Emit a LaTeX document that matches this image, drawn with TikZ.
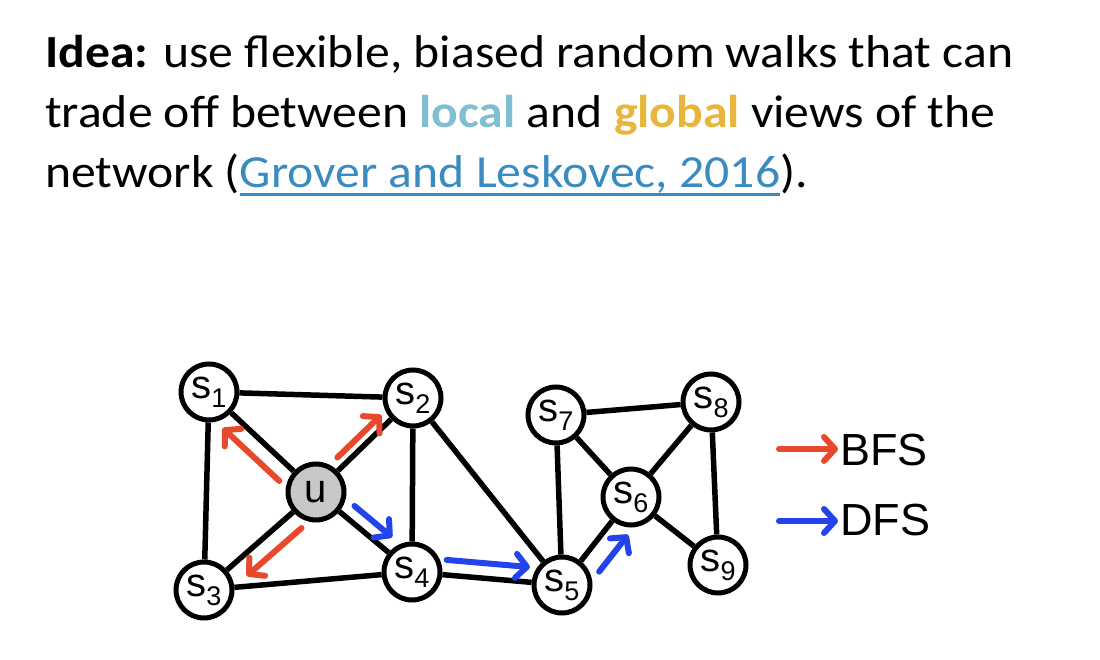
\documentclass[tikz,border=0pt]{standalone}
\usepackage{fontspec}
\setmainfont{Carlito}[FakeStretch=1.08]
\newfontfamily\arialfont{Liberation Sans}
\usetikzlibrary{arrows.meta}

\definecolor{bfsred}{HTML}{E8492C}
\definecolor{dfsblue}{HTML}{2244E8}
\definecolor{linkblue}{HTML}{3A8BBF}
\definecolor{localblue}{HTML}{80BFCF}
\definecolor{globalgold}{HTML}{E8B63C}
\definecolor{ugray}{HTML}{C8C8C8}

% vertex label s_i
\newcommand{\slabel}[1]{s\raisebox{-9pt}{\fontsize{27}{27}\selectfont #1}}
% underlined link text
\newcommand{\linktext}[1]{\setbox0\hbox{#1}\rlap{\rule[-8pt]{\wd0}{2.5pt}}\box0}

\begin{document}
\begin{tikzpicture}[x=1pt,y=-1pt]
\tikzstyle{vertex} = [circle,draw,line width=5pt,minimum size=56pt,inner sep=0pt,fill=white,
	font=\arialfont\fontsize{40}{40}\selectfont]
\tikzstyle{link} = [line width=5.5pt]
\tikzstyle{walk} = [line width=6pt,line cap=round,
	-{Straight Barb[length=11pt,width=24pt,line cap=round,line join=round]}]
\tikzstyle{textline} = [anchor=base west,inner sep=0pt,font=\fontsize{46}{46}\selectfont]
\useasboundingbox (0,0) rectangle (1100,660);

\node[textline] (line1) at (45,68) {\textbf{Idea:} use flexible, biased random walks that can};
\node[textline] (line2) at (45,128) {trade off between \textcolor{localblue}{\textbf{local}} and \textcolor{globalgold}{\textbf{global}} views of the};
\node[textline] (line3) at (45,188) {network (\textcolor{linkblue}{\linktext{Grover and Leskovec, 2016}}).};

\path (209,392) node [vertex] (s1) {\slabel{1}}
		(413,398) node [vertex] (s2) {\slabel{2}}
		(204,590) node [vertex] (s3) {\slabel{3}}
		(316,492) node [vertex,fill=ugray] (u) {u}
		(412,572) node [vertex] (s4) {\slabel{4}}
		(562,585) node [vertex] (s5) {\slabel{5}}
		(631,497) node [vertex] (s6) {\slabel{6}}
		(556,415) node [vertex] (s7) {\slabel{7}}
		(711,402) node [vertex] (s8) {\slabel{8}}
		(718,565) node [vertex] (s9) {\slabel{9}};

\draw[link] (s1) -- (s2);
\draw[link] (s1) -- (s3);
\draw[link] (s1) -- (u);
\draw[link] (s2) -- (u);
\draw[link] (s2) -- (s4);
\draw[link] (s2) -- (s5);
\draw[link] (u) -- (s3);
\draw[link] (u) -- (s4);
\draw[link] (s3) -- (s4);
\draw[link] (s4) -- (s5);
\draw[link] (s5) -- (s7);
\draw[link] (s5) -- (s6);
\draw[link] (s7) -- (s8);
\draw[link] (s7) -- (s6);
\draw[link] (s6) -- (s8);
\draw[link] (s6) -- (s9);
\draw[link] (s8) -- (s9);

% BFS steps around u
\draw[walk,bfsred,transform canvas={shift={(-11.5,12.5)}},shorten <=4pt,shorten >=4pt] (u) -- (s1);
\draw[walk,bfsred,transform canvas={shift={(-7,-7)}},shorten <=9pt,shorten >=4pt] (u) -- (s2);
\draw[walk,bfsred,transform canvas={shift={(11.5,13.3)}},shorten <=4pt,shorten >=11pt] (u) -- (s3);
% DFS walk
\draw[walk,dfsblue,transform canvas={shift={(8.9,-10.7)}},shorten <=8pt,shorten >=7pt] (u) -- (s4);
\draw[walk,dfsblue,transform canvas={shift={(1.3,-15)}},shorten <=3pt,shorten >=3pt] (s4) -- (s5);
\draw[walk,dfsblue,transform canvas={shift={(16.5,13)}},shorten <=3pt,shorten >=1pt] (s5) -- (s6);

% legend
\node[anchor=base west,inner sep=0pt,font=\arialfont\fontsize{45}{45}\selectfont] (bfs) at (840,465) {BFS};
\node[anchor=base west,inner sep=0pt,font=\arialfont\fontsize{45}{45}\selectfont] (dfs) at (840,535) {DFS};
\coordinate (bfsstart) at (779,449);
\coordinate (dfsstart) at (779,521);
\draw[walk,bfsred,shorten >=2pt] (bfsstart) -- (bfsstart -| bfs.west);
\draw[walk,dfsblue,shorten >=2pt] (dfsstart) -- (dfsstart -| dfs.west);
\end{tikzpicture}
\end{document}
